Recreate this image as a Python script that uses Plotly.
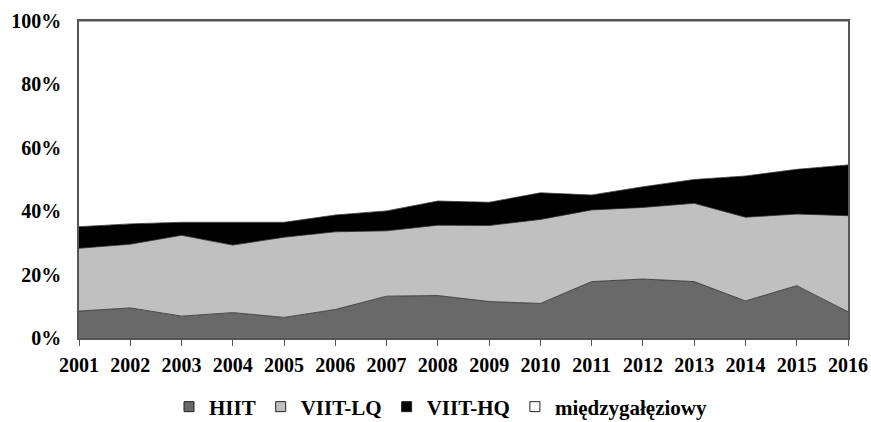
import plotly.graph_objects as go

years = list(range(2001, 2017))
hiit_top = [8.5, 9.5, 6.9, 8.0, 6.5, 9.0, 13.2, 13.4, 11.5, 10.9, 17.8, 18.6, 17.8, 11.7, 16.5, 8.3]
lq_top = [28.3, 29.6, 32.4, 29.3, 31.8, 33.5, 33.8, 35.6, 35.5, 37.4, 40.4, 41.2, 42.5, 38.1, 39.1, 38.6]
hq_top = [35.1, 36.0, 36.5, 36.5, 36.5, 38.8, 40.1, 43.2, 42.8, 45.8, 45.1, 47.7, 50.0, 51.1, 53.2, 54.6]

hiit = hiit_top
viit_lq = [round(b - a, 1) for a, b in zip(hiit_top, lq_top)]
viit_hq = [round(b - a, 1) for a, b in zip(lq_top, hq_top)]
miedzy = [round(100 - a, 1) for a in hq_top]

series = [
    ("HIIT", hiit, "#696969"),
    ("VIIT-LQ", viit_lq, "#c0c0c0"),
    ("VIIT-HQ", viit_hq, "#000000"),
    ("międzygałęziowy", miedzy, "#ffffff"),
]

fig = go.Figure()
for name, vals, col in series:
    fig.add_trace(go.Scatter(
        x=years, y=vals, name=name, mode="lines",
        stackgroup="one", fillcolor=col,
        line=dict(color="#2a2a2a", width=0.8),
        showlegend=False,
    ))
# legend entries with square swatches
for name, vals, col in series:
    fig.add_trace(go.Scatter(
        x=[None], y=[None], name=f"<b>{name}</b>", mode="markers",
        marker=dict(symbol="square", size=10, color=col, line=dict(color="#222", width=1)),
    ))

W, H = 871, 422
font = dict(family="Liberation Serif, Times New Roman, serif", size=20, color="#000")
fig.update_layout(
    width=W, height=H,
    margin=dict(l=79, r=23, t=21, b=84),
    paper_bgcolor="white", plot_bgcolor="white",
    font=font,
    showlegend=True,
    legend=dict(orientation="h", x=441 / W, xanchor="center", xref="container",
                y=(H - 407) / H, yanchor="middle", yref="container",
                font=dict(family="Liberation Serif, serif", size=21, color="#000"),
                itemwidth=30, traceorder="normal", tracegroupgap=0, borderwidth=0),
    hovermode=False,
)
fig.update_xaxes(
    range=[2001, 2016], tickmode="array", tickvals=years, ticktext=[f"<b>{y}</b>" for y in years],
    showgrid=False, zeroline=False, showline=True, linecolor="#555", linewidth=1.5,
    mirror=True, ticks="outside", ticklen=6, tickcolor="#555", tickfont=font,
    automargin=False, ticklabelstandoff=2,
)
fig.update_yaxes(
    range=[0, 100], tickmode="array", tickvals=[0, 20, 40, 60, 80, 100],
    ticktext=[f"<b>{v}%</b>" for v in [0, 20, 40, 60, 80, 100]],
    showgrid=False, zeroline=False, showline=True, linecolor="#555", linewidth=1.5,
    mirror=True, ticks="", ticklabelstandoff=12, tickfont=font, automargin=False,
)
fig.write_html("out.html", config={"displayModeBar": False},
               post_script="document.body.style.margin='0';document.body.style.overflow='hidden';")
